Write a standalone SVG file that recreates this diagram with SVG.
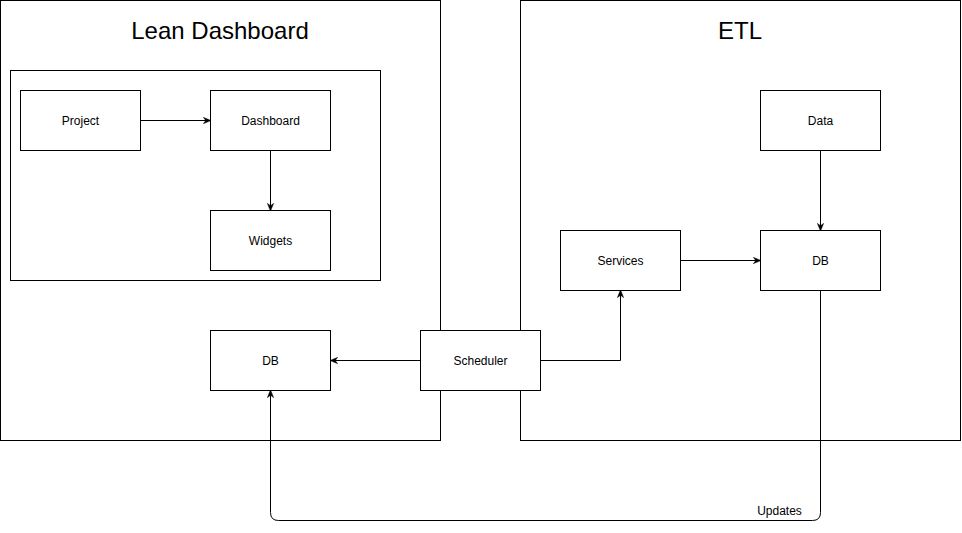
<svg xmlns="http://www.w3.org/2000/svg" width="962" height="533" viewBox="0 0 962 533">
<style>
.box{fill:#ffffff;stroke:#000000;stroke-width:1}
.lbl{font-family:"Liberation Sans",Arial,sans-serif;font-size:12px;fill:#000000;text-anchor:middle;dominant-baseline:central}
.title{font-family:"Liberation Sans",Arial,sans-serif;font-size:24px;fill:#000000;text-anchor:middle}
.edge{fill:none;stroke:#000000;stroke-width:1;marker-end:url(#arr)}
</style>
<defs>
<marker id="arr" viewBox="0 0 10 10" refX="9" refY="5" markerWidth="8" markerHeight="8" markerUnits="userSpaceOnUse" orient="auto">
<path d="M0,1 L10,5 L0,9 L3,5 Z" fill="#000000" stroke="#000000" stroke-width="0.5"/>
</marker>
</defs>
<rect width="962" height="533" fill="#ffffff"/>
<g id="lean-dashboard">
<rect class="box" x="0.5" y="0.5" width="440" height="440"/>
<text class="title" x="220" y="39">Lean Dashboard</text>
</g>
<g id="etl">
<rect class="box" x="520.5" y="0.5" width="440" height="440"/>
<text class="title" x="740" y="39">ETL</text>
</g>
<g id="inner">
<rect class="box" x="10.5" y="70.5" width="370" height="210"/>
</g>
<g id="project"><rect class="box" x="20.5" y="90.5" width="120" height="60"/><text class="lbl" x="80.5" y="120.5">Project</text></g>
<g id="dashboard"><rect class="box" x="210.5" y="90.5" width="120" height="60"/><text class="lbl" x="270.5" y="120.5">Dashboard</text></g>
<g id="widgets"><rect class="box" x="210.5" y="210.5" width="120" height="60"/><text class="lbl" x="270.5" y="240.5">Widgets</text></g>
<g id="db-left"><rect class="box" x="210.5" y="330.5" width="120" height="60"/><text class="lbl" x="270.5" y="360.5">DB</text></g>
<g id="scheduler"><rect class="box" x="420.5" y="330.5" width="120" height="60"/><text class="lbl" x="480.5" y="360.5">Scheduler</text></g>
<g id="data"><rect class="box" x="760.5" y="90.5" width="120" height="60"/><text class="lbl" x="820.5" y="120.5">Data</text></g>
<g id="services"><rect class="box" x="560.5" y="230.5" width="120" height="60"/><text class="lbl" x="620.5" y="260.5">Services</text></g>
<g id="db-right"><rect class="box" x="760.5" y="230.5" width="120" height="60"/><text class="lbl" x="820.5" y="260.5">DB</text></g>
<g id="connectors">
<path class="edge" d="M140.5,120.5 L210.5,120.5"/>
<path class="edge" d="M270.5,150.5 L270.5,210.5"/>
<path class="edge" d="M420.5,360.5 L330.5,360.5"/>
<path class="edge" d="M540.5,360.5 L620.5,360.5 L620.5,290.5"/>
<path class="edge" d="M680.5,260.5 L760.5,260.5"/>
<path class="edge" d="M820.5,150.5 L820.5,230.5"/>
<path class="edge" d="M820.5,290.5 L820.5,512.5 Q820.5,520.5 812.5,520.5 L278.5,520.5 Q270.5,520.5 270.5,512.5 L270.5,390.5"/>
<text class="lbl" x="779.5" y="510.5">Updates</text>
</g>
</svg>
